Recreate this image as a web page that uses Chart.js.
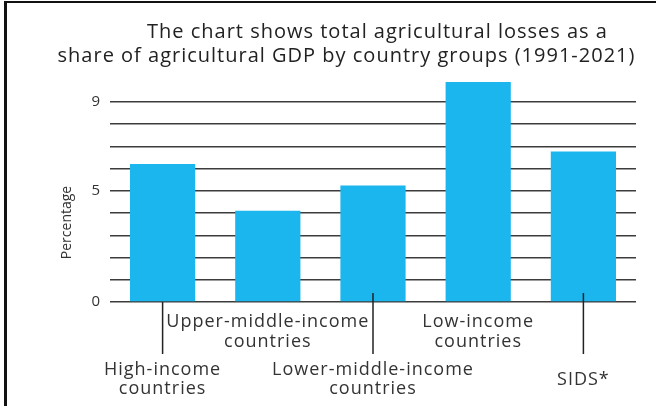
<!DOCTYPE html>
<html><head><meta charset="utf-8">
<script src="https://cdn.jsdelivr.net/npm/chart.js@4/dist/chart.umd.min.js"></script>
<style>
html,body{margin:0;padding:0;background:#fff;}
#wrap{position:relative;width:656px;height:406px;overflow:hidden;background:#fff;}
#frame{position:absolute;left:4px;top:1px;right:0;bottom:0;border-left:3px solid #111;border-top:2px solid #111;pointer-events:none;}
canvas{position:absolute;left:0;top:0;}
</style></head><body>
<div id="wrap"><canvas id="c" width="656" height="406"></canvas><div id="frame"></div></div>
<script>
// ---- data ----
const titleLines = ['The chart shows total agricultural losses as a', 'share of agricultural GDP by country groups (1991-2021)'];
const categories = [['High-income', 'countries'], ['Upper-middle-income', 'countries'], ['Lower-middle-income', 'countries'], ['Low-income', 'countries'], ['SIDS*']];
const lossShare = [6.2, 4.1, 5.24, 9.89, 6.76];
const yLabelledTicks = [0, 5, 9];
const yAxisTitle = 'Percentage';

const FONT = "'Open Sans', 'Noto Sans', sans-serif";
Chart.defaults.font.family = FONT;

const spacing = {
  id: 'spacing',
  beforeDraw(chart) { chart.ctx.letterSpacing = '1px'; },
  afterDraw(chart) { chart.ctx.letterSpacing = '0px'; }
};

const groupLabels = {
  id: 'groupLabels',
  afterDraw(chart) {
    const {ctx, chartArea, scales: {x}} = chart;
    ctx.save();
    ctx.letterSpacing = '1px';
    ctx.font = "18px " + FONT;
    ctx.fillStyle = '#333';
    ctx.textAlign = 'center';
    ctx.textBaseline = 'middle';
    const lh = 19.5;
    chart.data.labels.forEach((lines, i) => {
      const px = x.getPixelForValue(i);
      const lower = i % 2 === 0;
      const cy = chartArea.bottom + (lower ? 77.5 : 30);
      if (lower) {
        ctx.beginPath();
        ctx.strokeStyle = '#222';
        ctx.lineWidth = 1.5;
        ctx.moveTo(px, chartArea.bottom - (i ? 9 : 0));
        ctx.lineTo(px, chartArea.bottom + 52);
        ctx.stroke();
      }
      lines.forEach((t, k) => ctx.fillText(t, px, cy + (k - (lines.length - 1) / 2) * lh));
    });
    ctx.save();
    ctx.translate(67, chartArea.top + 143);
    ctx.rotate(-Math.PI / 2);
    ctx.letterSpacing = '0px';
    ctx.font = "14px " + FONT;
    ctx.fillText(yAxisTitle, 0, 0);
    ctx.restore();
    ctx.restore();
  }
};

new Chart(document.getElementById('c'), {
  type: 'bar',
  data: {
    labels: categories,
    datasets: [{
      data: lossShare,
      backgroundColor: '#1cb6ef',
      borderWidth: 0,
      categoryPercentage: 1,
      barPercentage: 0.62
    }]
  },
  options: {
    responsive: false,
    devicePixelRatio: 1,
    animation: false,
    layout: { padding: { left: 57, right: 20, top: 0, bottom: 0 } },
    plugins: {
      legend: { display: false },
      tooltip: { enabled: false },
      title: {
        display: true,
        // first line sits further right in the reference
        text: [' '.repeat(10) + titleLines[0], titleLines[1]],
        color: '#222',
        font: { size: 20, weight: 'normal', lineHeight: '24px' },
        padding: { top: 20.5, bottom: 11 }
      }
    },
    scales: {
      x: {
        grid: { display: false },
        border: { display: false },
        ticks: { display: false },
        afterFit(s) { s.height = 104; }
      },
      y: {
        min: 0, max: 10,
        border: { display: false },
        grid: {
          drawTicks: false,
          lineWidth: 1.5,
          color: c => (c.tick && c.tick.value > 9) ? 'rgba(0,0,0,0)' : '#3c3c3c'
        },
        ticks: {
          stepSize: 1,
          autoSkip: false,
          padding: 9,
          color: '#333',
          font: { size: 15 },
          callback: v => yLabelledTicks.includes(v) ? String(v) : ''
        },
        afterFit(s) { s.width = 53; }
      }
    }
  },
  plugins: [spacing, groupLabels]
});
</script>
</body></html>
